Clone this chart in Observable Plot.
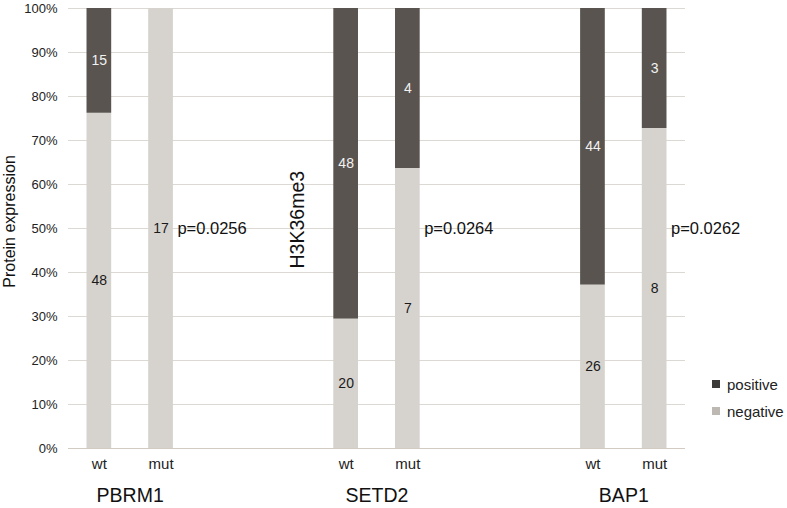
<!DOCTYPE html>
<html><head><meta charset="utf-8">
<script src="https://cdn.jsdelivr.net/npm/d3@7"></script>
<script src="https://cdn.jsdelivr.net/npm/@observablehq/plot@0.6"></script>
<style>
body{margin:0;background:#fff;font-family:"Liberation Sans",Arial,sans-serif;}
#wrap{position:relative;width:787px;height:508px;}
.leg{position:absolute;font-size:15px;color:#222;display:flex;align-items:center;}
.sw{width:8px;height:8px;margin-right:7px;display:inline-block;}
</style></head>
<body><div id="wrap"></div>
<script>
const genes = ["PBRM1", "SETD2", "BAP1"];
const slots = ["PBRM1|wt","PBRM1|mut","b1","b2","SETD2|wt","SETD2|mut","b3","b4","BAP1|wt","BAP1|mut"];
const negative = [48, 17, 20, 7, 26, 8];   // wt, mut per gene
const positive = [15, 0, 48, 4, 44, 3];
const pvalues = ["p=0.0256", "p=0.0264", "p=0.0262"];
const statuses = ["negative", "positive"];
const colors = ["#d6d2cd", "#59544f"];

const rows = [];
genes.forEach((g, gi) => {
  ["wt","mut"].forEach((m, mi) => {
    const i = gi*2 + mi;
    rows.push({key: g+"|"+m, status: "negative", count: negative[i]});
    rows.push({key: g+"|"+m, status: "positive", count: positive[i]});
  });
});
const groups = genes.map((g, i) => ({gene: g, wt: g+"|wt", mut: g+"|mut", p: pvalues[i]}));

const W = 787, H = 508, ML = 68, MR = 102, MT = 8, MB = 60;
const step = (W - ML - MR) / slots.length;
const bw = step * 0.4;

const chart = Plot.plot({
  width: W, height: H,
  marginLeft: ML, marginRight: MR, marginTop: MT, marginBottom: MB,
  style: {fontFamily: '"Liberation Sans", Arial, sans-serif', color: "#222", background: "#fff"},
  x: {domain: slots, paddingInner: 0.6, paddingOuter: 0.3, round: false, label: null},
  y: {domain: [0, 1], label: null},
  color: {domain: statuses, range: colors},
  marks: [
    Plot.ruleY(d3.range(1, 11).map(d => d/10), {stroke: "#dcd8d3", strokeWidth: 1.2}),
    Plot.ruleY([0], {stroke: "#d3cbc1", strokeWidth: 1.2}),
    Plot.axisY({ticks: d3.range(0, 11).map(d => d/10), tickFormat: d3.format(".0%"), tickSize: 0, tickPadding: 11, fontSize: 13, label: null}),
    Plot.axisX({tickSize: 0, tickPadding: 10, fontSize: 15, label: null,
      tickFormat: d => d.includes("|") ? d.split("|")[1] : ""}),
    Plot.barY(rows, Plot.stackY({x: "key", y: "count", fill: "status", offset: "normalize", order: statuses})),
    Plot.text(rows, Plot.stackY({x: "key", y: "count", z: "status", offset: "normalize", order: statuses,
      text: "count", filter: d => d.count > 0, fontSize: 14,
      fill: d => d.status === "positive" ? "#f2f2f2" : "#1a1a1a"})),
    Plot.text(groups, {x: "mut", y: [0.5,0.5,0.5], text: "p", textAnchor: "start", dx: bw/2 + 4, fontSize: 16.5, fill: "#111"}),
    Plot.text(groups, {x: "wt", text: "gene", frameAnchor: "bottom", dx: step/2, dy: 53, fontSize: 19.5, fill: "#111"}),
    Plot.text(["H3K36me3"], {x: ["SETD2|wt"], y: [0.52], text: d => d, rotate: -90, dx: -48, fontSize: 19.5, fill: "#111"}),
    Plot.text(["Protein expression"], {frameAnchor: "left", y: [0.516], text: d => d, textAnchor: "middle", rotate: -90, dx: -59, fontSize: 16, fill: "#111"})
  ]
});
const wrap = document.getElementById("wrap");
wrap.appendChild(chart);
const legItems = [["positive", "#3d3b39", 384], ["negative", "#bdb8b2", 411]];
legItems.forEach(([t, c, y]) => {
  const d = document.createElement("div");
  d.className = "leg";
  d.style.left = "712px"; d.style.top = (y - 9) + "px"; d.style.height = "18px";
  d.innerHTML = `<span class="sw" style="background:${c}"></span><span>${t}</span>`;
  wrap.appendChild(d);
});
</script></body></html>
